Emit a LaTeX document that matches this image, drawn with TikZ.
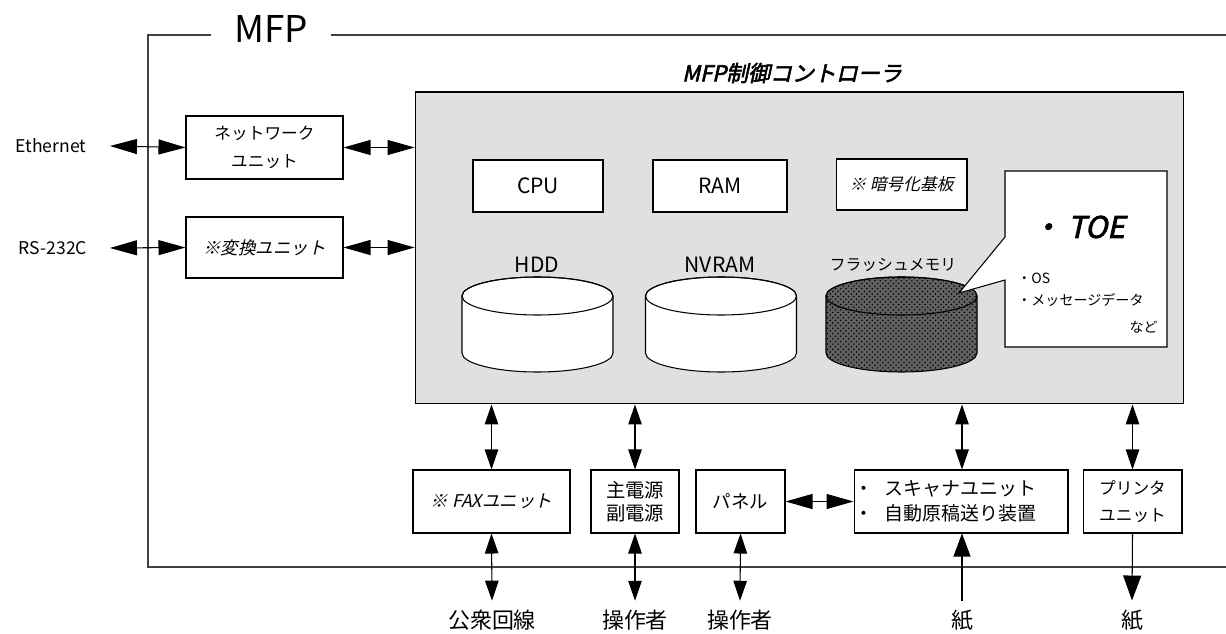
\documentclass[tikz,border=0pt]{standalone}
\usepackage{fontspec}
\setmainfont{Noto Sans CJK JP}
\newfontfamily\slantjp[FakeSlant=0.22]{Noto Sans CJK JP}
\newfontfamily\boldslantjp[FakeSlant=0.22,FakeBold=2.5]{Noto Sans CJK JP}
\usetikzlibrary{arrows.meta, patterns}

\tikzset{
  unit/.style={draw, fill=white, line width=0.6pt, align=center, inner sep=0pt,
    minimum height=1.26cm, font=\fontsize{10}{15}\selectfont},
  link/.style={line width=0.6pt, {Triangle[length=0.4cm,width=0.27cm]}-{Triangle[length=0.4cm,width=0.27cm]}},
  hlink/.style={line width=0.6pt, {Triangle[length=0.54cm,width=0.3cm]}-{Triangle[length=0.54cm,width=0.3cm]}},
  outside/.style={font=\fontsize{12.5}{14}\selectfont, inner sep=5pt},
  diskfill/.style={fill=white},
  flashfill/.style={fill=black!62, postaction={pattern=crosshatch dots, pattern color=black}},
}

\begin{document}
\begin{tikzpicture}[x=0.02cm, y=-0.02cm]
  \useasboundingbox (0,0) rectangle (1226,634);

  \node[font=\fontsize{21}{24}\selectfont, inner xsep=0.45cm] (mfp) at (271,29) {MFP};
  \coordinate (tl) at (148,35);
  \draw[line width=0.8pt, black!75] (mfp.west |- tl) -- (tl) -- (148,567) -- (1226,567);
  \draw[line width=0.8pt, black!75] (mfp.east |- tl) -- (1226,35);

  \node[draw, fill=black!12, line width=0.6pt, minimum width=15.38cm, minimum height=6.24cm, inner sep=0pt] (ctrl) at (799.5,248) {};
  \node[font=\boldslantjp\fontsize{12.5}{14}\selectfont] (ctrltitle) at (792,73) {MFP制御コントローラ};

  \node[unit, minimum width=2.6cm, minimum height=1.04cm, font=\fontsize{12}{14}\selectfont] (cpu) at (538,186) {CPU};
  \node[unit, minimum width=2.68cm, minimum height=1.04cm, font=\fontsize{12}{14}\selectfont] (ram) at (720,186) {RAM};
  \node[unit, minimum width=2.62cm, minimum height=1.02cm, font=\slantjp\fontsize{9.5}{12}\selectfont] (crypt) at (901.5,184.5) {※ 暗号化基板};

  \foreach \cx/\fl in {537.5/diskfill, 721/diskfill, 901.5/flashfill} {
    \draw[line width=0.6pt, \fl] (\cx-75.5,296) -- (\cx-75.5,353)
      arc[start angle=180, end angle=0, x radius=75.5, y radius=19]
      -- (\cx+75.5,296) arc[start angle=0, end angle=-180, x radius=75.5, y radius=19] -- cycle;
    \draw[line width=0.6pt] (\cx,296) ellipse [x radius=75.5, y radius=19];
  }
  \node[font=\fontsize{12}{14}\selectfont] (hdd) at (537,265) {HDD};
  \node[font=\fontsize{12}{14}\selectfont] (nvram) at (720,265) {NVRAM};
  \node[font=\fontsize{9}{11}\selectfont] (flash) at (893,265) {フラッシュメモリ};

  \draw[line width=0.6pt, fill=white] (1005,237) -- (959,293) -- (1005,280) -- (1005,347)
    -- (1167,347) -- (1167,171) -- (1005,171) -- cycle;
  \node[font=\boldslantjp\fontsize{17}{20}\selectfont] (toe) at (1078,227) {・ TOE};
  \node[anchor=west, font=\fontsize{8}{10}\selectfont, inner sep=0pt] (os) at (1017,278) {・OS};
  \node[anchor=west, font=\fontsize{8}{10}\selectfont, inner sep=0pt] (msg) at (1017,300) {・メッセージデータ};
  \node[anchor=east, font=\fontsize{8}{10}\selectfont, inner sep=0pt] (etc) at (1158,327) {など};

  \node[unit, minimum width=3.14cm, font=\fontsize{9.5}{16}\selectfont] (net) at (264.5,147.5) {ネットワーク\\ユニット};
  \node[unit, minimum width=3.14cm, minimum height=1.22cm, font=\slantjp\fontsize{10}{12}\selectfont] (conv) at (264.5,247.5) {※変換ユニット};
  \node[font=\fontsize{10}{12}\selectfont] (eth) at (51,146) {Ethernet};
  \node[font=\fontsize{10}{12}\selectfont] (rs) at (53,248) {RS-232C};
  \coordinate (ethend) at (110,146);
  \coordinate (rsend) at (110,248);

  \node[unit, minimum width=3.14cm, font=\slantjp\fontsize{10}{12}\selectfont] (fax) at (491.5,501.5) {※ FAXユニット};
  \node[unit, minimum width=1.76cm, font=\fontsize{11}{13}\selectfont] (power) at (635,501.5) {主電源\\副電源};
  \node[unit, minimum width=1.78cm, font=\fontsize{10.5}{12}\selectfont] (panel) at (740.5,501.5) {パネル};
  \node[unit, minimum width=4.28cm, text width=4.28cm, align=left, font=\fontsize{10.8}{14.2}\selectfont] (scan) at (961,501.5)
    {・\hspace{0.6em}スキャナユニット\\・\hspace{0.6em}自動原稿送り装置};
  \node[unit, minimum width=1.98cm, font=\fontsize{9.5}{15.4}\selectfont] (prn) at (1132.5,501.5) {プリンタ\\ユニット};

  \node[outside] (line) at (492,620) {公衆回線};
  \node[outside] (op1) at (635,620) {操作者};
  \node[outside] (op2) at (740,620) {操作者};
  \node[outside] (paper1) at (962,620) {紙};
  \node[outside] (paper2) at (1132,620) {紙};

  \draw[hlink] (ethend) -- (net.west);
  \draw[hlink] (net.east) -- (net.east -| ctrl.west);
  \draw[hlink] (rsend) -- (conv.west);
  \draw[hlink] (conv.east) -- (conv.east -| ctrl.west);

  \draw[link] (ctrl.south -| fax) -- (fax.north);
  \draw[link] (ctrl.south -| power) -- (power.north);
  \draw[link] (ctrl.south -| 962,0) -- (scan.north -| 962,0);
  \draw[link] (ctrl.south -| prn) -- (prn.north);

  \draw[link] (fax.south) -- (line.north);
  \draw[link] (power.south) -- (op1.north);
  \draw[link] (panel.south) -- (op2.north);
  \draw[hlink] (panel.east) -- (scan.west);
  \draw[line width=0.6pt, -{Triangle[length=0.46cm,width=0.34cm]}] (paper1.north) -- (scan.south -| paper1);
  \draw[line width=0.6pt, -{Triangle[length=0.5cm,width=0.36cm]}] (prn.south) -- (paper2.north);
\end{tikzpicture}
\end{document}
